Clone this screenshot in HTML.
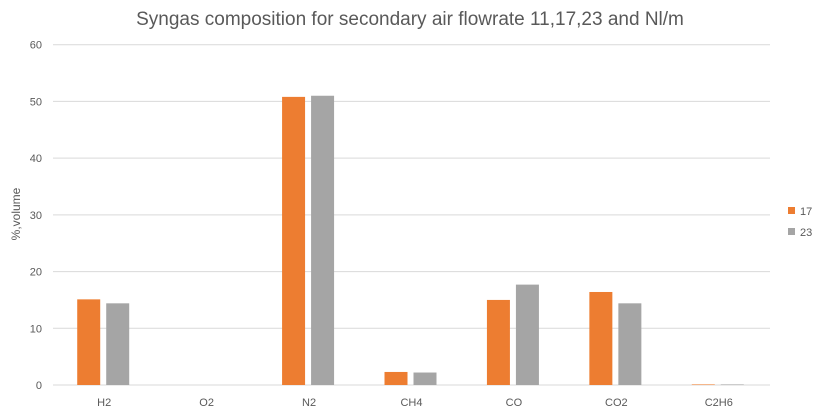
<!DOCTYPE html>
<html><head><meta charset="utf-8"><style>
body{margin:0;background:#fff;}
svg text{font-family:"Liberation Sans",sans-serif;}
</style></head><body>
<svg id="chart" width="820" height="408" xmlns="http://www.w3.org/2000/svg">
<text x="410" y="25" text-anchor="middle" font-size="19" fill="#595959">Syngas composition for  secondary air flowrate 11,17,23 and Nl/m</text>
<text transform="translate(20,214) rotate(-90)" text-anchor="middle" font-size="12" fill="#595959">%,volume</text>
<g id="grid"></g><g id="bars"></g><g id="xlabels"></g>
<g>
<rect x="788" y="207" width="7" height="7" fill="#ed7d31"/>
<text x="800" y="215" font-size="11" fill="#595959">17</text>
<rect x="788" y="228" width="7" height="7" fill="#a5a5a5"/>
<text x="800" y="236" font-size="11" fill="#595959">23</text>
</g>
</svg>
<script>
const categories=["H2","O2","N2","CH4","CO","CO2","C2H6"];
const series17=[15.1,0,50.8,2.3,15.0,16.4,0.1];
const series23=[14.4,0,51.0,2.2,17.7,14.4,0.1];
const yTicks=[0,10,20,30,40,50,60];
const NS="http://www.w3.org/2000/svg";
const x0=53,x1=770,yB=385,yT=44.7,yMax=60;
const step=(x1-x0)/categories.length;
const y=v=>yB-(v/yMax)*(yB-yT);
const xc=i=>x0+step*(i+0.5);
function mk(t,a,p){const e=document.createElementNS(NS,t);for(const k in a)e.setAttribute(k,a[k]);p.appendChild(e);return e;}
const grid=document.getElementById('grid');
yTicks.forEach(t=>{
 const l=mk('line',{x1:x0,x2:x1,y1:y(t),y2:y(t),stroke:'#d9d9d9','stroke-width':1},grid);
 
 
 const tx=mk('text',{x:42,y:y(t)+4,'text-anchor':'end','font-size':11,fill:'#595959'},grid);
 tx.textContent=t;
 
 
});
const bars=document.getElementById('bars'),xl=document.getElementById('xlabels');
categories.forEach((c,i)=>{
 const cx=xc(i);
 const b1=mk('rect',{x:cx-27,y:y(series17[i]),width:23,height:yB-y(series17[i]),fill:'#ed7d31'},bars);
 
 
 const b2=mk('rect',{x:cx+2,y:y(series23[i]),width:23,height:yB-y(series23[i]),fill:'#a5a5a5'},bars);
 
 
 const t=mk('text',{x:cx,y:406,'text-anchor':'middle','font-size':11,fill:'#595959'},xl);
 t.textContent=c;
 
 
});
</script>
</body></html>
